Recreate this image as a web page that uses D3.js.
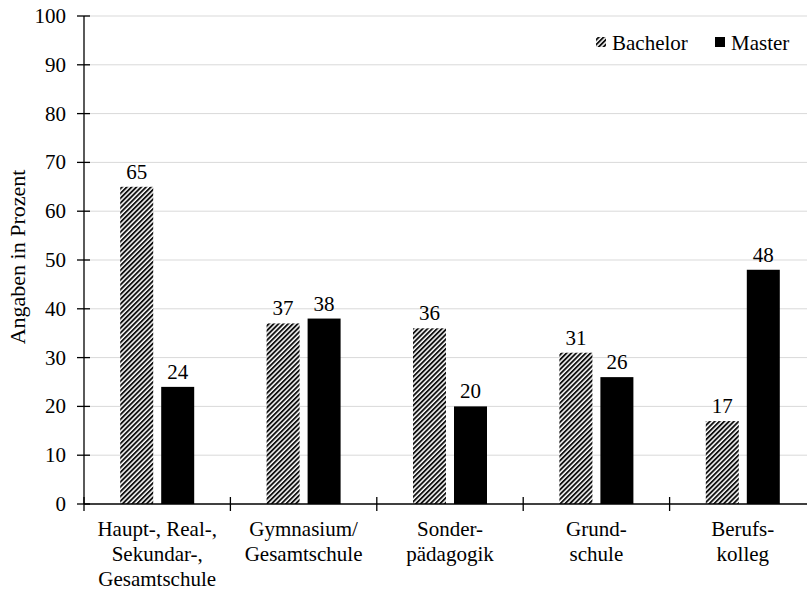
<!DOCTYPE html>
<html>
<head>
<meta charset="utf-8">
<script src="https://cdn.jsdelivr.net/npm/d3@7"></script>
<style>
  body { margin: 0; background: #fff; }
  svg { display: block; font-family: "Liberation Serif", "Times New Roman", serif; }
</style>
</head>
<body>
<svg id="chart" width="807" height="591"></svg>
<script>
const categories = [
  ["Haupt-, Real-,", "Sekundar-,", "Gesamtschule"],
  ["Gymnasium/", "Gesamtschule"],
  ["Sonder-", "pädagogik"],
  ["Grund-", "schule"],
  ["Berufs-", "kolleg"]
];
const seriesNames = ["Bachelor", "Master"];
const bachelor = [65, 37, 36, 31, 17];
const master = [24, 38, 20, 26, 48];
const yTicks = [0, 10, 20, 30, 40, 50, 60, 70, 80, 90, 100];

(function () {
const svg = d3.select("#chart");
const mLeft = 84, mRight = 816, mTop = 16, mBottom = 504;
const fs = 21;

const defs = svg.append("defs");
const pat = defs.append("pattern")
  .attr("id", "hatch")
  .attr("patternUnits", "userSpaceOnUse")
  .attr("width", 3.4).attr("height", 3.4)
  .attr("patternTransform", "rotate(45)");
pat.append("rect").attr("width", 3.4).attr("height", 3.4).attr("fill", "#fff");
pat.append("rect").attr("x", 0).attr("width", 1.9).attr("height", 3.4).attr("fill", "#111");

const x = d3.scaleBand().domain(d3.range(categories.length)).range([mLeft, mRight]);
const y = d3.scaleLinear().domain([0, 100]).range([mBottom, mTop]);

// horizontal gridlines
svg.append("g").selectAll("line").data(yTicks.filter(d => d > 0)).join("line")
  .attr("x1", mLeft).attr("x2", 807)
  .attr("y1", d => y(d)).attr("y2", d => y(d))
  .attr("stroke", "#d9d9d9").attr("stroke-width", 1);

// bars with value labels
const barW = 33, gap = 8;
const groups = [bachelor, master];
groups.forEach((vals, si) => {
  const g = svg.append("g");
  g.selectAll("rect").data(vals).join("rect")
    .attr("x", (d, i) => x(i) + x.bandwidth() / 2 - gap / 2 - barW + si * (barW + gap))
    .attr("y", d => y(d))
    .attr("width", barW)
    .attr("height", d => y(0) - y(d))
    .attr("fill", si === 0 ? "url(#hatch)" : "#000");
  g.selectAll("text").data(vals).join("text")
    .attr("x", (d, i) => x(i) + x.bandwidth() / 2 - gap / 2 - barW / 2 + si * (barW + gap))
    .attr("y", d => y(d) - 8)
    .attr("text-anchor", "middle")
    .attr("font-size", fs)
    .attr("fill", "#000")
    .text(d => d);
});

// y axis
const yAxis = svg.append("g");
yAxis.append("line").attr("x1", mLeft).attr("x2", mLeft).attr("y1", mTop).attr("y2", mBottom)
  .attr("stroke", "#000").attr("stroke-width", 1.3);
yAxis.selectAll("line.tick").data(yTicks).join("line").attr("class", "tick")
  .attr("x1", mLeft - 7).attr("x2", mLeft + 6)
  .attr("y1", d => y(d)).attr("y2", d => y(d))
  .attr("stroke", "#000").attr("stroke-width", 1.3);
yAxis.selectAll("text").data(yTicks).join("text")
  .attr("x", mLeft - 18).attr("y", d => y(d) + 7)
  .attr("text-anchor", "end").attr("font-size", fs)
  .text(d => d);

// x axis
const xAxis = svg.append("g");
xAxis.append("line").attr("x1", mLeft).attr("x2", 807).attr("y1", mBottom).attr("y2", mBottom)
  .attr("stroke", "#000").attr("stroke-width", 1.3);
xAxis.selectAll("line.tick").data(d3.range(categories.length + 1)).join("line").attr("class", "tick")
  .attr("x1", d => mLeft + d * x.step()).attr("x2", d => mLeft + d * x.step())
  .attr("y1", mBottom - 7).attr("y2", mBottom + 7)
  .attr("stroke", "#000").attr("stroke-width", 1.3);
categories.forEach((lines, i) => {
  const cx = x(i) + x.bandwidth() / 2;
  const t = xAxis.append("text")
    .attr("x", cx)
    .attr("y", 536)
    .attr("text-anchor", "middle")
    .attr("font-size", fs);
  lines.forEach((ln, k) => {
    t.append("tspan").attr("x", cx).attr("dy", k === 0 ? 0 : 25).text(ln);
  });
});

// axis title
svg.append("text")
  .attr("transform", `translate(25,${(mTop + mBottom) / 2 - 3}) rotate(-90)`)
  .attr("text-anchor", "middle").attr("font-size", 22)
  .text("Angaben in Prozent");

// legend
const legend = svg.append("g");
const legX = [596, 715];
seriesNames.forEach((name, i) => {
  legend.append("rect").attr("x", legX[i]).attr("y", 37).attr("width", 10).attr("height", 10)
    .attr("fill", i === 0 ? "url(#hatch)" : "#000");
  legend.append("text").attr("x", legX[i] + 16).attr("y", 50).attr("font-size", fs).text(name);
});
})();
</script>
</body>
</html>
